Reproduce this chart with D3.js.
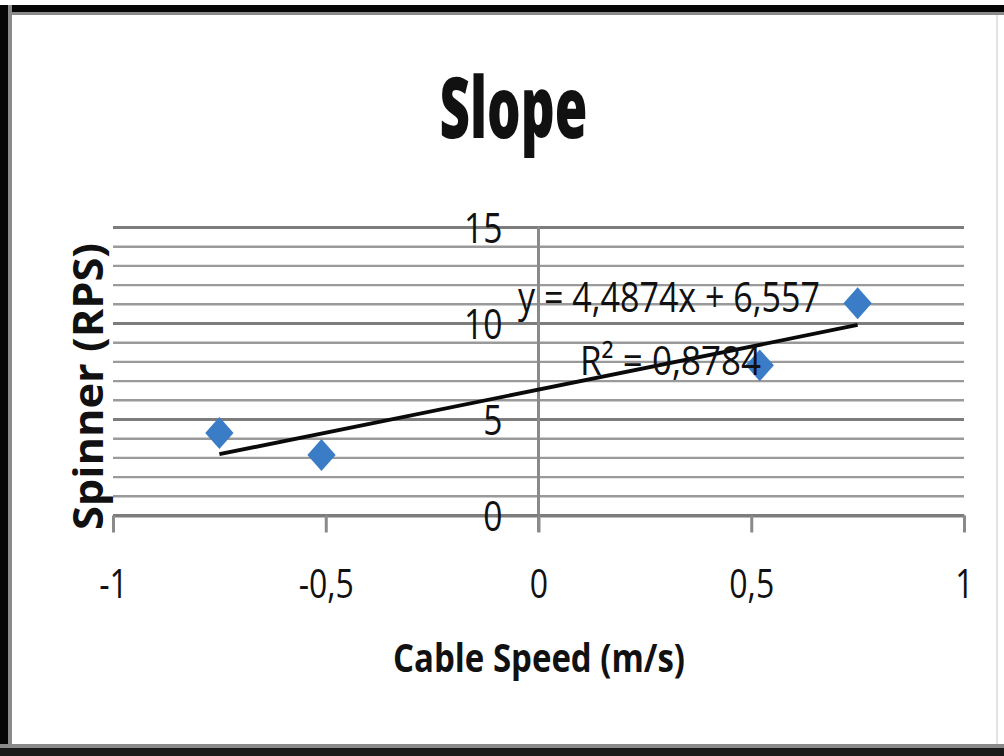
<!DOCTYPE html>
<html>
<head>
<meta charset="utf-8">
<script src="https://cdn.jsdelivr.net/npm/d3@7"></script>
<style>
  html, body { margin: 0; padding: 0; background: #fff; }
  svg { display: block; }
  text { font-family: "Open Sans", "Noto Sans", sans-serif; fill: #111; }
</style>
</head>
<body>
<svg id="chart" width="1004" height="756"></svg>
<script>
// Cable speed (m/s) vs spinner speed (RPS)
const cableSpeed = [-0.75, -0.51, 0.52, 0.75];
const spinnerRps = [4.3, 3.15, 7.82, 11.05];

// Linear trend line reported for the series
const trendSlope = 4.4874;
const trendIntercept = 6.557;
const trendR2 = 0.8784;

const xTicks = [-1, -0.5, 0, 0.5, 1];
const yTicks = [0, 5, 10, 15];
const yDomain = [0, 15];
const xDomain = [-1, 1];

const titleText = "Slope";
const xTitle = "Cable Speed (m/s)";
const yTitle = "Spinner (RPS)";

const fmt = v => String(v).replace(".", ",");

const svg = d3.select("#chart");

// Frame around the chart
svg.append("rect").attr("x", 0).attr("y", 0).attr("width", 1004).attr("height", 756).attr("fill", "#fff");
svg.append("rect").attr("x", 0).attr("y", 11).attr("width", 1004).attr("height", 4).attr("fill", "#8a8a8a");
svg.append("rect").attr("x", 0).attr("y", 5).attr("width", 1004).attr("height", 7).attr("fill", "#050505");
svg.append("rect").attr("x", 7).attr("y", 5).attr("width", 5).attr("height", 751).attr("fill", "#8a8a8a");
svg.append("rect").attr("x", 0).attr("y", 5).attr("width", 8).attr("height", 751).attr("fill", "#050505");
svg.append("rect").attr("x", 0).attr("y", 744).attr("width", 1004).attr("height", 5).attr("fill", "#8a8a8a");
svg.append("rect").attr("x", 0).attr("y", 748).attr("width", 1004).attr("height", 8).attr("fill", "#1a1a1a");
svg.append("rect").attr("x", 996).attr("y", 15).attr("width", 2).attr("height", 729).attr("fill", "#e2e2e2");

const x = d3.scaleLinear().domain(xDomain).range([113, 964]);
const y = d3.scaleLinear().domain(yDomain).range([515.5, 227.5]);

// Horizontal gridlines at every unit, heavier at labelled values
const grid = svg.append("g");
grid.selectAll("line")
  .data(y.ticks(15))
  .join("line")
  .attr("x1", x(xDomain[0])).attr("x2", x(xDomain[1]))
  .attr("y1", d => y(d)).attr("y2", d => y(d))
  .attr("stroke", d => yTicks.includes(d) ? "#7c7c7c" : "#9a9a9a")
  .attr("stroke-width", d => yTicks.includes(d) ? 3.2 : 2.4);

// Vertical axis through x = 0
svg.append("line")
  .attr("x1", x(0)).attr("x2", x(0))
  .attr("y1", y(15) - 1).attr("y2", 532)
  .attr("stroke", "#8a8a8a").attr("stroke-width", 3);

// Bottom axis
const xAxisG = svg.append("g")
  .attr("transform", `translate(0,${y(0)})`)
  .call(d3.axisBottom(x).tickValues(xTicks).tickFormat(fmt).tickSize(17).tickSizeOuter(0).tickPadding(14));
xAxisG.select(".domain").attr("stroke", "#7c7c7c").attr("stroke-width", 3.2);
xAxisG.selectAll(".tick line").attr("stroke", "#8a8a8a").attr("stroke-width", 3);
xAxisG.selectAll(".tick text")
  .attr("font-size", 40).attr("font-family", "Open Sans, sans-serif").attr("fill", "#111")
  .attr("dy", "0.71em").attr("y", 54);

// Left value labels sitting beside the x = 0 axis
const yAxisG = svg.append("g")
  .attr("transform", `translate(${x(0)},0)`)
  .call(d3.axisLeft(y).tickValues(yTicks).tickFormat(fmt).tickSize(0).tickPadding(36));
yAxisG.select(".domain").remove();
yAxisG.selectAll(".tick text")
  .attr("font-size", 42).attr("font-family", "Open Sans, sans-serif").attr("fill", "#111")
  .attr("dy", "0.36em");

// Condense tick labels horizontally
svg.selectAll(".tick text").each(function() {
  const w = this.getComputedTextLength();
  d3.select(this).attr("textLength", w * 0.8).attr("lengthAdjust", "spacingAndGlyphs");
});

// Trend line over the data range
const xExt = [-0.75, 0.75];
svg.append("line")
  .attr("x1", x(xExt[0])).attr("y1", y(trendSlope * xExt[0] + trendIntercept))
  .attr("x2", x(xExt[1])).attr("y2", y(trendSlope * xExt[1] + trendIntercept))
  .attr("stroke", "#0a0a0a").attr("stroke-width", 3.8);

// Data markers
const points = cableSpeed.map((v, i) => ({ x: v, y: spinnerRps[i] }));
svg.append("g").selectAll("path")
  .data(points)
  .join("path")
  .attr("d", d3.symbol(d3.symbolSquare, 400))
  .attr("transform", d => `translate(${x(d.x)},${y(d.y)}) scale(1,1.13) rotate(45)`)
  .attr("fill", "#3b7cc6");

// Trend equation and fit
svg.append("text")
  .attr("x", 518).attr("y", 312)
  .attr("font-size", 42)
  .attr("textLength", 302).attr("lengthAdjust", "spacingAndGlyphs")
  .text(`y = ${fmt(trendSlope)}x + ${fmt(trendIntercept)}`);
svg.append("text")
  .attr("x", 580).attr("y", 375)
  .attr("font-size", 40)
  .attr("textLength", 181).attr("lengthAdjust", "spacingAndGlyphs")
  .text(`R² = ${fmt(trendR2)}`);

// Titles
svg.append("text")
  .attr("x", 513.5).attr("y", 138)
  .attr("text-anchor", "middle")
  .attr("font-size", 85).attr("font-weight", 800)
  .attr("textLength", 148).attr("lengthAdjust", "spacingAndGlyphs")
  .text(titleText);

svg.append("text")
  .attr("x", 539).attr("y", 672)
  .attr("text-anchor", "middle")
  .attr("font-size", 40).attr("font-weight", 700)
  .attr("textLength", 292).attr("lengthAdjust", "spacingAndGlyphs")
  .text(xTitle);

svg.append("text")
  .attr("transform", "translate(103,386.5) rotate(-90)")
  .attr("text-anchor", "middle")
  .attr("font-size", 41).attr("font-weight", 700)
  .attr("textLength", 287).attr("lengthAdjust", "spacingAndGlyphs")
  .text(yTitle);
</script>
</body>
</html>
